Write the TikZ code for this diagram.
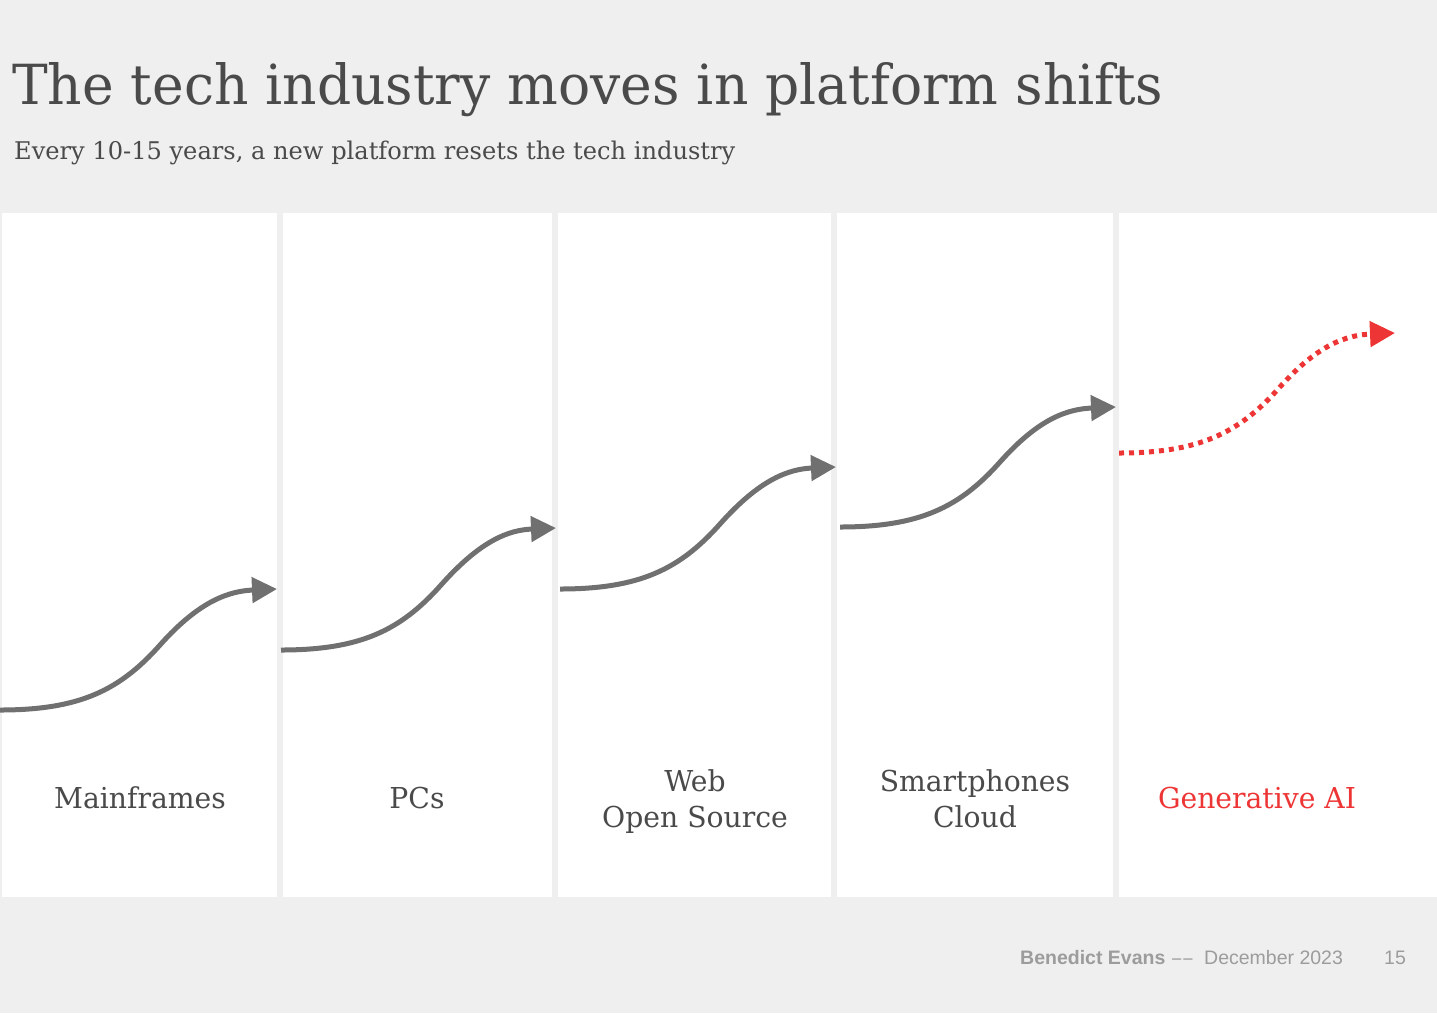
\documentclass[tikz,border=0pt]{standalone}
\usepackage{fontspec}
\setmainfont{DejaVu Serif}
\newfontfamily\footfont{Liberation Sans}
\usetikzlibrary{arrows.meta}
\definecolor{bgc}{HTML}{EFEFEF}
\definecolor{txt}{HTML}{4A4A4A}
\definecolor{arr}{HTML}{707070}
\definecolor{hot}{HTML}{EE3535}
\definecolor{foot}{HTML}{9C9C9C}
\newcommand\labsx{0.98}
\tikzset{
  panel/.style={fill=white, draw=none},
  titletext/.style={anchor=base west, inner sep=0pt, text=txt},
  labeltext/.style={anchor=base, inner sep=0pt, text=txt, font=\fontsize{28.8}{34}\selectfont},
  hotlabel/.style={labeltext, text=hot},
  foottext/.style={anchor=base west, inner sep=0pt, text=foot, font=\footfont\fontsize{19.5}{22}\selectfont},
  shiftarrow/.style={line width=5pt, draw=arr, -{Triangle[length=25pt,width=25pt]}},
  nextshift/.style={line width=5pt, draw=hot, dash pattern=on 5pt off 5pt, -{Triangle[length=25pt,width=25pt]}},
}
\begin{document}
\begin{tikzpicture}[x=1pt, y=-1pt]
\fill[bgc] (0,0) rectangle (1437,1013);
\useasboundingbox (0,0) rectangle (1437,1013);
% panels
\fill[panel] (2,213) rectangle (277,897);
\fill[panel] (283,213) rectangle (552,897);
\fill[panel] (558,213) rectangle (831,897);
\fill[panel] (837,213) rectangle (1113,897);
\fill[panel] (1119,213) rectangle (1437,897);
% title
\node[titletext] (title) at (12,104) {\resizebox{1151pt}{42pt}{The tech industry moves in platform shifts}};
\node[titletext] (subtitle) at (14,159) {\resizebox{721pt}{18.5pt}{Every 10-15 years, a new platform resets the tech industry}};
% curve coordinates
\coordinate (s1) at (0,710);    \coordinate (m1) at (160,645);  \coordinate (t1) at (277,589);
\coordinate (s2) at (281,650);  \coordinate (m2) at (441,585);  \coordinate (t2) at (556,528);
\coordinate (s3) at (560,589);  \coordinate (m3) at (720,524);  \coordinate (t3) at (836,467);
\coordinate (s4) at (840,527);  \coordinate (m4) at (1000,462); \coordinate (t4) at (1116,407);
\coordinate (s5) at (1119,453); \coordinate (m5) at (1279,388); \coordinate (t5) at (1395,333);
\foreach \i in {1,2,3,4}{
  \draw[shiftarrow] (s\i) .. controls +(80,0) and +(-40,45) .. (m\i) .. controls +(40,-45) and +(-47,2) .. (t\i);
}
\draw[nextshift] (s5) .. controls +(80,0) and +(-40,45) .. (m5) .. controls +(40,-45) and +(-47,2) .. (t5);
% labels
\node[labeltext] (l1) at (140,808) {\scalebox{\labsx}[1]{Mainframes}};
\node[labeltext] (l2) at (417,808) {\scalebox{\labsx}[1]{PCs}};
\node[labeltext] (l3a) at (695,791) {\scalebox{\labsx}[1]{Web}};
\node[labeltext] (l3b) at (695,827) {\scalebox{\labsx}[1]{Open Source}};
\node[labeltext] (l4a) at (975,791) {\scalebox{\labsx}[1]{Smartphones}};
\node[labeltext] (l4b) at (975,827) {\scalebox{\labsx}[1]{Cloud}};
\node[hotlabel] (l5) at (1257,808) {\scalebox{\labsx}[1]{Generative AI}};
% footer
\node[foottext] (f1) at (1020,964) {\bfseries Benedict Evans};
\node[foottext] (f2) at (1172,964) {\scalebox{0.85}[1]{–}\kern2pt\scalebox{0.85}[1]{–}};
\node[foottext] (f3) at (1204,964) {December 2023};
\node[foottext] (f4) at (1384,964) {15};
\end{tikzpicture}
\end{document}
